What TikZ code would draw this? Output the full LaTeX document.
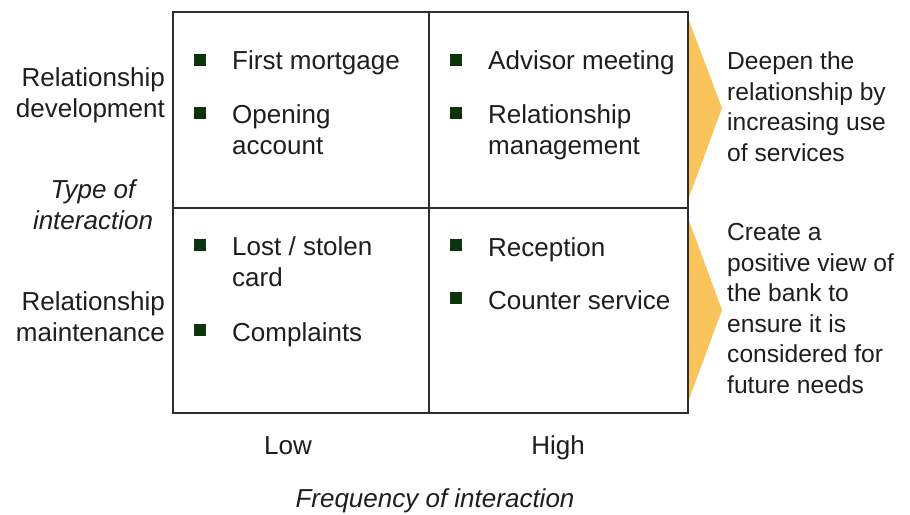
\documentclass[tikz,border=0pt]{standalone}
\usepackage{fontspec}
\setmainfont{Liberation Sans}
\definecolor{gridc}{RGB}{45,45,45}
\definecolor{txt}{RGB}{30,30,30}
\definecolor{bul}{RGB}{12,52,12}
\definecolor{chev}{RGB}{250,196,92}
\begin{document}
\begin{tikzpicture}[x=1pt,y=-1pt,
  lbl/.style={inner sep=0pt, text=txt, font=\fontsize{26}{30.5}\selectfont, align=left, anchor=base west},
  olbl/.style={lbl, font=\fontsize{24.6}{30.5}\selectfont},
  rlbl/.style={lbl, align=right, anchor=base east},
  clbl/.style={lbl, align=center, anchor=base},
  bsq/.style={fill=bul, minimum size=12pt, inner sep=0pt, anchor=center},
  gridline/.style={draw=gridc, line width=1.6pt},
  chevfill/.style={fill=chev}]
\useasboundingbox (0,0) rectangle (910,514);
\fill[white] (0,0) rectangle (910,514);
% chevrons
\fill[chevfill] (688,18) -- (722,108) -- (688,200) -- cycle;
\fill[chevfill] (688,218) -- (722,310) -- (688,402) -- cycle;
% grid
\draw[gridline] (173,12) rectangle (688,413);
\draw[gridline] (429,12) -- (429,413);
\draw[gridline] (173,208) -- (688,208);
% bullets
\node[bsq] (b1) at (200,60) {};
\node[bsq] (b2) at (200,113) {};
\node[bsq] (b3) at (456,60) {};
\node[bsq] (b4) at (456,113) {};
\node[bsq] (b5) at (200,245) {};
\node[bsq] (b6) at (200,330) {};
\node[bsq] (b7) at (456,245) {};
\node[bsq] (b8) at (456,298) {};
% items (multi-line nodes are placed by the baseline of their last line)
\node[lbl] (t1) at (232,69) {First mortgage};
\node[lbl] (t2) at (232,154) {Opening\\account};
\node[lbl] (t3) at (488,69) {Advisor meeting};
\node[lbl] (t4) at (488,154) {Relationship\\management};
\node[lbl] (t5) at (232,286) {Lost / stolen\\card};
\node[lbl] (t6) at (232,341) {Complaints};
\node[lbl] (t7) at (488,256) {Reception};
\node[lbl] (t8) at (488,309) {Counter service};
% left axis
\node[rlbl] (rd) at (165,117) {Relationship\\development};
\node[clbl, font=\fontsize{26}{30.5}\selectfont\itshape] (toi) at (93,229) {Type of\\interaction};
\node[rlbl] (rm) at (165,341) {Relationship\\maintenance};
% right outcomes
\node[olbl] (o1) at (727,161) {Deepen the\\relationship by\\increasing use\\of services};
\node[olbl] (o2) at (727,393) {Create a\\positive view of\\the bank to\\ensure it is\\considered for\\future needs};
% bottom axis
\node[clbl] (low) at (288,454) {Low};
\node[clbl] (high) at (558,454) {High};
\node[clbl, font=\fontsize{26}{30.5}\selectfont\itshape] (foi) at (435,507) {Frequency of interaction};
\end{tikzpicture}
\end{document}
